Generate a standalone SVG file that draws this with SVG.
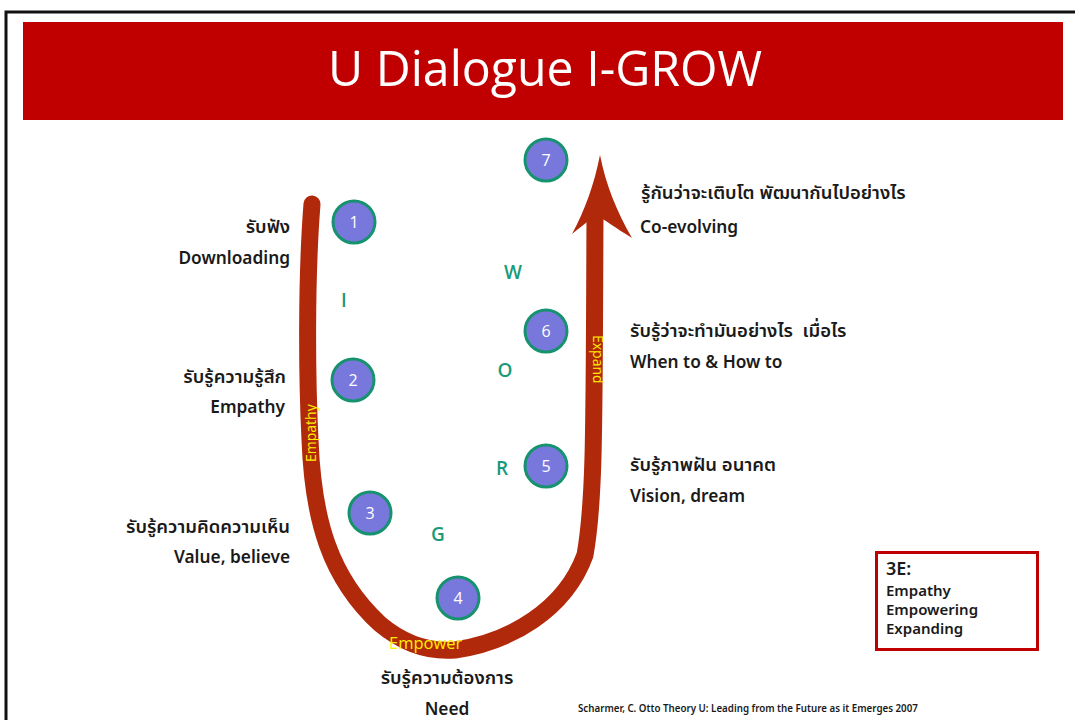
<svg xmlns="http://www.w3.org/2000/svg" width="1075" height="720" viewBox="0 0 1075 720">
  <style>
    .lbl { font-family: "Noto Sans", "Noto Sans Thai", "DejaVu Sans", sans-serif; font-size: 17.3px; font-weight: 600; fill: #1a1a1a; }
    .th { font-size: 18.5px; }
    .num { font-family: "Open Sans", "Noto Sans", sans-serif; font-size: 16px; fill: #ffffff; text-anchor: middle; }
    .step { fill: #7878dc; stroke: #17926f; stroke-width: 3; }
    .letter { font-family: "Open Sans", "Noto Sans", sans-serif; font-size: 19px; font-weight: 600; fill: #1a9a78; text-anchor: middle; }
    .arm { font-family: "Open Sans", "Noto Sans", sans-serif; font-size: 14px; fill: #ffee00; }
    .box { font-family: "Noto Sans", sans-serif; font-size: 15px; font-weight: 600; fill: #1a1a1a; }
  </style>

  <rect width="1075" height="720" fill="#ffffff"/>
  <!-- slide frame -->
  <path d="M6 720 V12 H1075" fill="none" stroke="#111111" stroke-width="3"/>

  <!-- title banner -->
  <rect x="23" y="22" width="1040" height="98" fill="#c00000"/>
  <text x="545" y="86" font-family="Open Sans, Noto Sans, sans-serif" font-size="50" fill="#ffffff" text-anchor="middle" textLength="434" lengthAdjust="spacingAndGlyphs">U Dialogue I-GROW</text>

  <!-- U-shaped arrow -->
  <g id="connectors">
    <path d="M312 204 C306 280, 307 380, 310 440 C313 520, 330 578, 380 624 C405 645, 430 652, 455 650 C510 642, 565 610, 585 555 C595 500, 594 420, 595 215"
          fill="none" stroke="#b1290b" stroke-width="17" stroke-linecap="round" stroke-linejoin="round"/>
    <path d="M600 155 C594 185, 585 210, 572 234 C582 226, 590 220, 596 214 C604 220, 616 228, 632 238 C616 210, 606 185, 600 155 Z" fill="#b1290b"/>
    <text class="arm" transform="translate(316 462) rotate(-90)">Empathy</text>
    <text class="arm" transform="translate(593 335) rotate(90)">Expand</text>
    <text class="arm" x="389" y="649" style="font-size:16.5px">Empower</text>
  </g>

  <!-- I-GROW letters -->
  <g id="letters">
    <text class="letter" x="344" y="307">I</text>
    <text class="letter" x="513" y="279">W</text>
    <text class="letter" x="505" y="377">O</text>
    <text class="letter" x="502" y="475">R</text>
    <text class="letter" x="438" y="541">G</text>
  </g>

  <!-- steps -->
  <g id="step1"><circle class="step" cx="354" cy="222" r="21"/><text class="num" x="354" y="228">1</text></g>
  <g id="step2"><circle class="step" cx="353" cy="380" r="21"/><text class="num" x="353" y="386">2</text></g>
  <g id="step3"><circle class="step" cx="370" cy="513" r="21"/><text class="num" x="370" y="519">3</text></g>
  <g id="step4"><circle class="step" cx="458" cy="598" r="21"/><text class="num" x="458" y="604">4</text></g>
  <g id="step5"><circle class="step" cx="546" cy="466" r="21"/><text class="num" x="546" y="472">5</text></g>
  <g id="step6"><circle class="step" cx="546" cy="331" r="21"/><text class="num" x="546" y="337">6</text></g>
  <g id="step7"><circle class="step" cx="546" cy="160" r="21"/><text class="num" x="546" y="166">7</text></g>

  <!-- left labels -->
  <g id="label1" text-anchor="end">
    <text class="lbl th" x="290" y="233">รับฟัง</text>
    <text class="lbl" x="290" y="264">Downloading</text>
  </g>
  <g id="label2" text-anchor="end">
    <text class="lbl th" x="286" y="383">รับรู้ความรู้สึก</text>
    <text class="lbl" x="285" y="413">Empathy</text>
  </g>
  <g id="label3" text-anchor="end">
    <text class="lbl th" x="290" y="533">รับรู้ความคิดความเห็น</text>
    <text class="lbl" x="290" y="563">Value, believe</text>
  </g>
  <g id="label4" text-anchor="middle">
    <text class="lbl th" x="447" y="684">รับรู้ความต้องการ</text>
    <text class="lbl" x="447" y="715">Need</text>
  </g>

  <!-- right labels -->
  <g id="label5">
    <text class="lbl th" x="630" y="471">รับรู้ภาพฝัน อนาคต</text>
    <text class="lbl" x="630" y="502">Vision, dream</text>
  </g>
  <g id="label6">
    <text class="lbl th" x="630" y="337" xml:space="preserve">รับรู้ว่าจะทำมันอย่างไร  เมื่อไร</text>
    <text class="lbl" x="630" y="368">When to &amp; How to</text>
  </g>
  <g id="label7">
    <text class="lbl th" x="641" y="199">รู้กันว่าจะเติบโต พัฒนากันไปอย่างไร</text>
    <text class="lbl" x="640" y="233">Co-evolving</text>
  </g>

  <!-- legend -->
  <g id="legend">
    <rect x="876.5" y="552.5" width="161" height="97" fill="#ffffff" stroke="#c00000" stroke-width="3"/>
    <text class="box" x="886" y="575" style="font-size:18px">3E:</text>
    <text class="box" x="886" y="596">Empathy</text>
    <text class="box" x="886" y="615">Empowering</text>
    <text class="box" x="886" y="634">Expanding</text>
  </g>

  <text x="578" y="712" font-family="Noto Sans, sans-serif" font-size="9.75" font-weight="600" fill="#1a1a1a">Scharmer, C. Otto Theory U: Leading from the Future as it Emerges 2007</text>
</svg>
